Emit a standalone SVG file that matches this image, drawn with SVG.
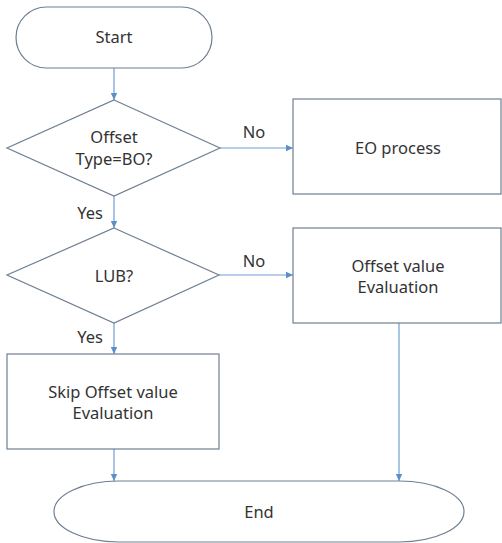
<svg xmlns="http://www.w3.org/2000/svg" width="502" height="543" viewBox="0 0 502 543">
<style>
.shape{fill:#fff;stroke:#6f7f92;stroke-width:1.2}
.t{font-family:"Noto Sans","Open Sans",sans-serif;font-size:16.5px;fill:#333;text-anchor:middle}
.c{fill:none;stroke:#6f9fd3;stroke-width:1.2}
</style>
<defs>
<marker id="ah" markerWidth="8" markerHeight="8" refX="7" refY="4" orient="auto" markerUnits="userSpaceOnUse">
<path d="M0,0.8 L7,4 L0,7.2 Z" fill="#5b8fcc"/>
</marker>
</defs>
<rect width="502" height="543" fill="#fff"/>
<g id="connectors">
<line class="c" x1="114" y1="68" x2="114" y2="100" marker-end="url(#ah)"/>
<line class="c" x1="220" y1="148" x2="293" y2="148" marker-end="url(#ah)"/>
<line class="c" x1="114" y1="196" x2="114" y2="228" marker-end="url(#ah)"/>
<line class="c" x1="219" y1="275" x2="293" y2="275" marker-end="url(#ah)"/>
<line class="c" x1="114" y1="323" x2="114" y2="354" marker-end="url(#ah)"/>
<line class="c" x1="114" y1="449" x2="114" y2="481" marker-end="url(#ah)"/>
<line class="c" x1="399" y1="323" x2="399" y2="481" marker-end="url(#ah)"/>
<text class="t" x="254" y="138">No</text>
<text class="t" x="254" y="267">No</text>
<text class="t" x="90" y="219">Yes</text>
<text class="t" x="90" y="343">Yes</text>
</g>
<g id="start">
<rect class="shape" x="16" y="7" width="196" height="61" rx="30.5"/>
<text class="t" x="114" y="43">Start</text>
</g>
<g id="decision1">
<polygon class="shape" points="114,100 220,148 114,196 7,148"/>
<text class="t" x="114" y="143">Offset</text>
<text class="t" x="114" y="165">Type=BO?</text>
</g>
<g id="eo">
<rect class="shape" x="293" y="99" width="208" height="95"/>
<text class="t" x="398" y="154">EO process</text>
</g>
<g id="decision2">
<polygon class="shape" points="114,228 219,275 114,323 7,275"/>
<text class="t" x="114" y="282">LUB?</text>
</g>
<g id="offset">
<rect class="shape" x="293" y="228" width="208" height="95"/>
<text class="t" x="398" y="272">Offset value</text>
<text class="t" x="398" y="293">Evaluation</text>
</g>
<g id="skip">
<rect class="shape" x="7" y="354" width="212" height="95"/>
<text class="t" x="113" y="398">Skip Offset value</text>
<text class="t" x="113" y="419">Evaluation</text>
</g>
<g id="end">
<rect class="shape" x="54" y="481" width="410" height="61" rx="65" ry="30.5"/>
<text class="t" x="259" y="518">End</text>
</g>
</svg>
